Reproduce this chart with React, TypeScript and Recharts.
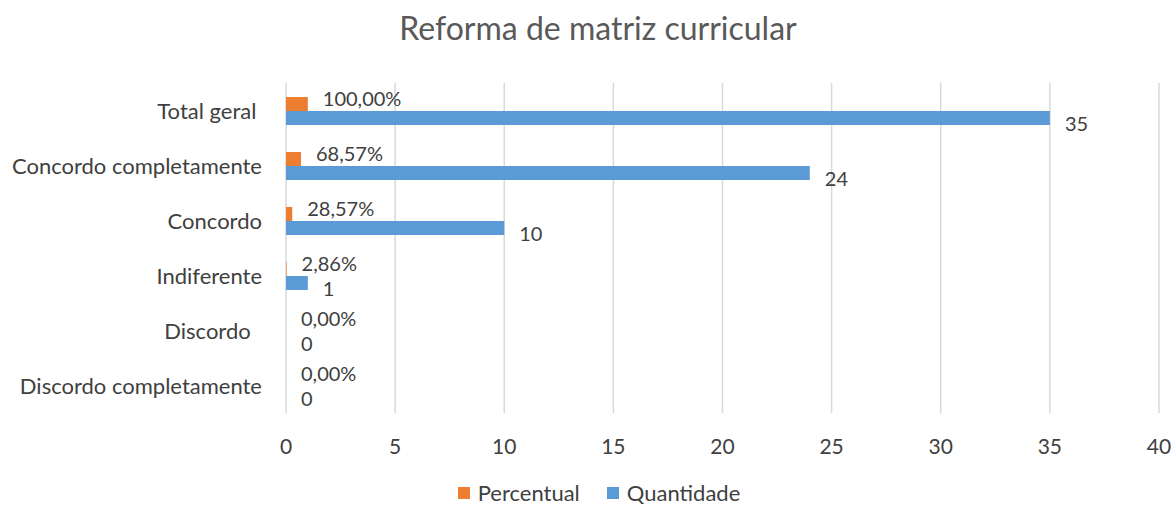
import React from 'react';
import { BarChart, Bar, XAxis, YAxis, CartesianGrid } from 'recharts';

const categories = [
  'Total geral ',
  'Concordo completamente',
  'Concordo',
  'Indiferente',
  'Discordo  ',
  'Discordo completamente',
];
const percentual = [1, 0.6857, 0.2857, 0.0286, 0, 0];
const quantidade = [35, 24, 10, 1, 0, 0];
const xTicks = [0, 5, 10, 15, 20, 25, 30, 35, 40];

const ORANGE = '#ed7d31';
const BLUE = '#5b9bd5';
const TEXT = '#404040';
const FONT = 'Lato, "Open Sans", sans-serif';

const data = categories.map((name, i) => ({
  name,
  percentual: percentual[i],
  quantidade: quantidade[i],
}));

const fmtPct = (v: number) => (v * 100).toFixed(2).replace('.', ',') + '%';

interface LabelProps {
  x?: number;
  y?: number;
  width?: number;
  height?: number;
  value?: number;
}

// rótulo à direita da barra, deslocado para cima (percentual) ou para baixo (quantidade)
const makeLabel = (dy: number, fmt: (v: number) => string) => (props: LabelProps) => {
  const { x = 0, y = 0, width = 0, height = 0, value = 0 } = props;
  return (
    <text
      x={x + width + 15}
      y={y + height / 2 + dy}
      fill={TEXT}
      fontSize={20}
      fontFamily={FONT}
      textAnchor="start"
      dominantBaseline="central"
    >
      {fmt(value)}
    </text>
  );
};

const CategoryTick = (props: { x?: number; y?: number; payload?: { value: string } }) => {
  const { x = 0, y = 0, payload } = props;
  return (
    <text
      x={x}
      y={y}
      fill={TEXT}
      fontSize={22}
      fontFamily={FONT}
      textAnchor="end"
      dominantBaseline="central"
      style={{ whiteSpace: 'pre' }}
    >
      {payload?.value}
    </text>
  );
};

const App = () => {
  return (
    <div
      style={{
        position: 'absolute',
        left: 0,
        top: 0,
        width: 1174,
        height: 506,
        background: '#fff',
        fontFamily: FONT,
      }}
    >
      <div
        style={{
          position: 'absolute',
          top: 9,
          left: 0,
          width: 1196,
          textAlign: 'center',
          fontSize: 32,
          lineHeight: '38px',
          color: '#595959',
        }}
      >
        Reforma de matriz curricular
      </div>

      <BarChart
        width={1174}
        height={506}
        data={data}
        layout="vertical"
        margin={{ top: 83, right: 15, bottom: 0, left: 0 }}
        barSize={14}
        barGap={0}
      >
        <CartesianGrid horizontal={false} stroke="#d9d9d9" strokeWidth={1.5} />
        <XAxis
          type="number"
          domain={[0, 40]}
          ticks={xTicks}
          axisLine={false}
          tickLine={false}
          tickSize={0}
          tickMargin={26}
          height={93}
          tick={{ fontSize: 21, fill: TEXT, fontFamily: FONT }}
        />
        <YAxis
          type="category"
          dataKey="name"
          width={286}
          axisLine={false}
          tickLine={false}
          tickSize={0}
          tickMargin={24}
          tick={<CategoryTick />}
        />
        <Bar
          dataKey="percentual"
          fill={ORANGE}
          minPointSize={0.01}
          isAnimationActive={false}
          label={makeLabel(-6, fmtPct)}
        />
        <Bar
          dataKey="quantidade"
          fill={BLUE}
          minPointSize={0.01}
          isAnimationActive={false}
          label={makeLabel(5, (v) => String(v))}
        />
      </BarChart>

      <div
        style={{
          position: 'absolute',
          top: 480,
          left: 0,
          width: 1198,
          display: 'flex',
          justifyContent: 'center',
          alignItems: 'center',
          fontSize: 22,
          lineHeight: '26px',
          color: TEXT,
        }}
      >
        <span style={{ width: 12, height: 12, background: ORANGE, marginRight: 8 }} />
        <span style={{ marginRight: 27 }}>Percentual</span>
        <span style={{ width: 12, height: 12, background: BLUE, marginRight: 8 }} />
        <span>Quantidade</span>
      </div>
    </div>
  );
};

export default App;
